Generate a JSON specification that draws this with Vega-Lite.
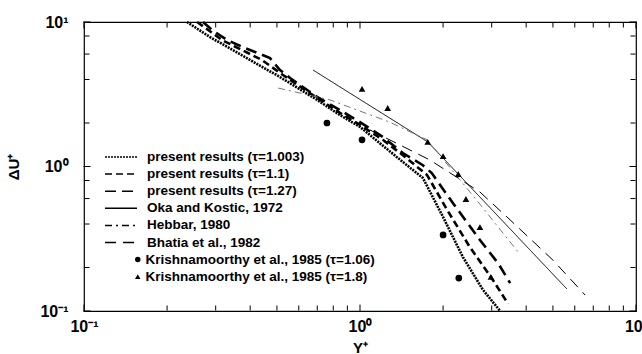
{
  "$schema": "https://vega.github.io/schema/vega-lite/v6.json",
  "width": 552,
  "height": 289,
  "autosize": {"type": "none"},
  "padding": {"left": 84, "top": 22, "right": 6, "bottom": 43},
  "background": "white",
  "config": {
    "view": {"stroke": "black", "strokeWidth": 1.2},
    "font": "Liberation Sans",
    "axis": {
      "domain": false,
      "grid": false,
      "ticks": false,
      "labelFont": "Liberation Sans",
      "labelFontWeight": "bold",
      "labelFontSize": 16,
      "labelColor": "black",
      "labelOverlap": false,
      "labelFlush": false,
      "titleFont": "Liberation Sans",
      "titleFontWeight": "bold",
      "titleFontSize": 15,
      "titleColor": "black"
    },
    "legend": {
      "labelFont": "Liberation Sans",
      "labelFontWeight": "bold",
      "labelFontSize": 13.5,
      "labelColor": "black",
      "padding": 0,
      "rowPadding": 2.1,
      "labelLimit": 400
    }
  },
  "datasets": {
    "lines": [
      {"series": "present results (τ=1.003)", "y_plus": 0.236, "du": 10.0},
      {"series": "present results (τ=1.003)", "y_plus": 0.286, "du": 7.87},
      {"series": "present results (τ=1.003)", "y_plus": 0.513, "du": 4.16},
      {"series": "present results (τ=1.003)", "y_plus": 0.699, "du": 2.89},
      {"series": "present results (τ=1.003)", "y_plus": 0.846, "du": 2.27},
      {"series": "present results (τ=1.003)", "y_plus": 1.0, "du": 1.88},
      {"series": "present results (τ=1.003)", "y_plus": 1.18, "du": 1.45},
      {"series": "present results (τ=1.003)", "y_plus": 1.40, "du": 1.11},
      {"series": "present results (τ=1.003)", "y_plus": 1.69, "du": 0.833},
      {"series": "present results (τ=1.003)", "y_plus": 2.00, "du": 0.447},
      {"series": "present results (τ=1.003)", "y_plus": 2.36, "du": 0.236},
      {"series": "present results (τ=1.003)", "y_plus": 2.79, "du": 0.140},
      {"series": "present results (τ=1.003)", "y_plus": 3.22, "du": 0.100},
      {"series": "present results (τ=1.1)", "y_plus": 0.257, "du": 10.0},
      {"series": "present results (τ=1.1)", "y_plus": 0.316, "du": 7.51},
      {"series": "present results (τ=1.1)", "y_plus": 0.441, "du": 5.46},
      {"series": "present results (τ=1.1)", "y_plus": 0.526, "du": 4.30},
      {"series": "present results (τ=1.1)", "y_plus": 0.699, "du": 2.98},
      {"series": "present results (τ=1.1)", "y_plus": 0.846, "du": 2.35},
      {"series": "present results (τ=1.1)", "y_plus": 1.0, "du": 1.94},
      {"series": "present results (τ=1.1)", "y_plus": 1.21, "du": 1.53},
      {"series": "present results (τ=1.1)", "y_plus": 1.46, "du": 1.16},
      {"series": "present results (τ=1.1)", "y_plus": 1.75, "du": 0.873},
      {"series": "present results (τ=1.1)", "y_plus": 2.07, "du": 0.50},
      {"series": "present results (τ=1.1)", "y_plus": 2.50, "du": 0.277},
      {"series": "present results (τ=1.1)", "y_plus": 3.03, "du": 0.164},
      {"series": "present results (τ=1.1)", "y_plus": 3.44, "du": 0.112},
      {"series": "present results (τ=1.27)", "y_plus": 0.270, "du": 10.0},
      {"series": "present results (τ=1.27)", "y_plus": 0.291, "du": 8.80},
      {"series": "present results (τ=1.27)", "y_plus": 0.330, "du": 7.51},
      {"series": "present results (τ=1.27)", "y_plus": 0.383, "du": 6.61},
      {"series": "present results (τ=1.27)", "y_plus": 0.472, "du": 5.63},
      {"series": "present results (τ=1.27)", "y_plus": 0.513, "du": 4.65},
      {"series": "present results (τ=1.27)", "y_plus": 0.558, "du": 4.10},
      {"series": "present results (τ=1.27)", "y_plus": 0.699, "du": 3.03},
      {"series": "present results (τ=1.27)", "y_plus": 0.846, "du": 2.46},
      {"series": "present results (τ=1.27)", "y_plus": 1.0, "du": 2.03},
      {"series": "present results (τ=1.27)", "y_plus": 1.21, "du": 1.60},
      {"series": "present results (τ=1.27)", "y_plus": 1.43, "du": 1.24},
      {"series": "present results (τ=1.27)", "y_plus": 1.69, "du": 1.02},
      {"series": "present results (τ=1.27)", "y_plus": 1.82, "du": 0.90},
      {"series": "present results (τ=1.27)", "y_plus": 2.17, "du": 0.559},
      {"series": "present results (τ=1.27)", "y_plus": 2.72, "du": 0.31},
      {"series": "present results (τ=1.27)", "y_plus": 3.16, "du": 0.215},
      {"series": "present results (τ=1.27)", "y_plus": 3.50, "du": 0.156},
      {"series": "Oka and Kostic, 1972", "y_plus": 0.676, "du": 4.65},
      {"series": "Oka and Kostic, 1972", "y_plus": 1.76, "du": 1.48},
      {"series": "Oka and Kostic, 1972", "y_plus": 5.62, "du": 0.142},
      {"series": "Hebbar, 1980", "y_plus": 0.505, "du": 3.49},
      {"series": "Hebbar, 1980", "y_plus": 0.778, "du": 2.89},
      {"series": "Hebbar, 1980", "y_plus": 1.28, "du": 2.03},
      {"series": "Hebbar, 1980", "y_plus": 1.75, "du": 1.53},
      {"series": "Hebbar, 1980", "y_plus": 2.68, "du": 0.568},
      {"series": "Hebbar, 1980", "y_plus": 3.74, "du": 0.256},
      {"series": "Bhatia et al., 1982", "y_plus": 1.087, "du": 1.79},
      {"series": "Bhatia et al., 1982", "y_plus": 1.79, "du": 1.11},
      {"series": "Bhatia et al., 1982", "y_plus": 2.72, "du": 0.666},
      {"series": "Bhatia et al., 1982", "y_plus": 3.41, "du": 0.447},
      {"series": "Bhatia et al., 1982", "y_plus": 5.00, "du": 0.225},
      {"series": "Bhatia et al., 1982", "y_plus": 6.54, "du": 0.129}
    ],
    "pts": [
      {"series": "Krishnamoorthy et al., 1985 (τ=1.06)", "y_plus": 0.759, "du": 2.0},
      {"series": "Krishnamoorthy et al., 1985 (τ=1.06)", "y_plus": 1.017, "du": 1.53},
      {"series": "Krishnamoorthy et al., 1985 (τ=1.06)", "y_plus": 2.0, "du": 0.336},
      {"series": "Krishnamoorthy et al., 1985 (τ=1.06)", "y_plus": 2.28, "du": 0.169},
      {"series": "Krishnamoorthy et al., 1985 (τ=1.8)", "y_plus": 1.017, "du": 3.44},
      {"series": "Krishnamoorthy et al., 1985 (τ=1.8)", "y_plus": 1.26, "du": 2.54},
      {"series": "Krishnamoorthy et al., 1985 (τ=1.8)", "y_plus": 1.76, "du": 1.48},
      {"series": "Krishnamoorthy et al., 1985 (τ=1.8)", "y_plus": 2.00, "du": 1.18},
      {"series": "Krishnamoorthy et al., 1985 (τ=1.8)", "y_plus": 2.27, "du": 0.887},
      {"series": "Krishnamoorthy et al., 1985 (τ=1.8)", "y_plus": 2.42, "du": 0.596},
      {"series": "Krishnamoorthy et al., 1985 (τ=1.8)", "y_plus": 2.72, "du": 0.381},
      {"series": "Krishnamoorthy et al., 1985 (τ=1.8)", "y_plus": 2.98, "du": 0.172}
    ],
    "xticks": [
      {"v": 0.1}, {"v": 0.2}, {"v": 0.3}, {"v": 0.4}, {"v": 0.5}, {"v": 0.6}, {"v": 0.7}, {"v": 0.8}, {"v": 0.9},
      {"v": 1}, {"v": 2}, {"v": 3}, {"v": 4}, {"v": 5}, {"v": 6}, {"v": 7}, {"v": 8}, {"v": 9}, {"v": 10}
    ],
    "yticks": [
      {"v": 0.1}, {"v": 0.2}, {"v": 0.4}, {"v": 0.6}, {"v": 0.8},
      {"v": 1}, {"v": 2}, {"v": 4}, {"v": 6}, {"v": 8}, {"v": 10}
    ]
  },
  "layer": [
    {
      "data": {"name": "lines"},
      "mark": {"type": "line", "strokeCap": "butt"},
      "encoding": {
        "x": {
          "field": "y_plus", "type": "quantitative",
          "scale": {"type": "log", "domain": [0.1, 10]},
          "axis": {
            "orient": "bottom",
            "values": [0.1, 1, 10],
            "labelExpr": "datum.value == 0.1 ? '10⁻¹' : datum.value == 1 ? '10⁰' : '10¹'",
            "labelPadding": 7,
            "title": "Y⁺",
            "titlePadding": 6
          }
        },
        "y": {
          "field": "du", "type": "quantitative",
          "scale": {"type": "log", "domain": [0.1, 10]},
          "axis": {
            "orient": "left",
            "values": [0.1, 1, 10],
            "labelExpr": "datum.value == 0.1 ? '10⁻¹' : datum.value == 1 ? '10⁰' : '10¹'",
            "labelPadding": 16,
            "title": "ΔU⁺",
            "titlePadding": 18
          }
        },
        "strokeDash": {
          "field": "series", "type": "nominal",
          "scale": {
            "domain": ["present results (τ=1.003)", "present results (τ=1.1)", "present results (τ=1.27)", "Oka and Kostic, 1972", "Hebbar, 1980", "Bhatia et al., 1982"],
            "range": [[2, 1], [7, 4], [11, 6], [1, 0], [7, 4, 2, 4], [11, 7]]
          },
          "legend": {
            "title": null,
            "orient": "none",
            "legendX": 20,
            "legendY": 127.5,
            "symbolType": "stroke",
            "symbolSize": 1024,
            "clipHeight": 15,
            "labelOffset": 9,
            "encode": {
              "symbols": {
                "update": {
                  "strokeWidth": {"signal": "indexof(datum.label, 'present') == 0 ? 2.2 : 1"},
                  "stroke": {"signal": "datum.label == 'Hebbar, 1980' ? '#777777' : 'black'"}
                }
              }
            }
          }
        },
        "color": {
          "condition": {"test": "datum.series == 'Hebbar, 1980'", "value": "#777777"},
          "value": "black"
        },
        "strokeWidth": {
          "condition": {"test": "indexof(datum.series, 'present') == 0", "value": 2.6},
          "value": 1
        }
      }
    },
    {
      "data": {"name": "pts"},
      "mark": {"type": "point", "filled": true, "opacity": 1, "color": "black", "size": 45},
      "encoding": {
        "x": {"field": "y_plus", "type": "quantitative", "axis": null},
        "y": {"field": "du", "type": "quantitative", "axis": null},
        "shape": {
          "field": "series", "type": "nominal",
          "scale": {
            "domain": ["Krishnamoorthy et al., 1985 (τ=1.06)", "Krishnamoorthy et al., 1985 (τ=1.8)"],
            "range": ["circle", "triangle-up"]
          },
          "legend": {
            "title": null,
            "orient": "none",
            "legendX": 47,
            "legendY": 230,
            "clipHeight": 15,
            "symbolSize": 30,
            "symbolFillColor": "black",
            "symbolStrokeColor": "black",
            "labelOffset": 1
          }
        }
      }
    },
    {
      "data": {"name": "xticks"},
      "mark": {"type": "tick", "orient": "vertical", "color": "black", "thickness": 1, "opacity": 1, "yOffset": -3},
      "encoding": {
        "x": {"field": "v", "type": "quantitative", "axis": null},
        "y": {"datum": 0.1, "type": "quantitative", "axis": null},
        "size": {"condition": {"test": "datum.v == 0.1 || datum.v == 1 || datum.v == 10", "value": 7}, "value": 5}
      }
    },
    {
      "data": {"name": "xticks"},
      "mark": {"type": "tick", "orient": "vertical", "color": "black", "thickness": 1, "opacity": 1, "yOffset": 3},
      "encoding": {
        "x": {"field": "v", "type": "quantitative", "axis": null},
        "y": {"datum": 10, "type": "quantitative", "axis": null},
        "size": {"condition": {"test": "datum.v == 0.1 || datum.v == 1 || datum.v == 10", "value": 7}, "value": 5}
      }
    },
    {
      "data": {"name": "yticks"},
      "mark": {"type": "tick", "orient": "horizontal", "color": "black", "thickness": 1, "opacity": 1, "xOffset": 3},
      "encoding": {
        "y": {"field": "v", "type": "quantitative", "axis": null},
        "x": {"datum": 0.1, "type": "quantitative", "axis": null},
        "size": {"condition": {"test": "datum.v == 0.1 || datum.v == 1 || datum.v == 10", "value": 7}, "value": 5}
      }
    },
    {
      "data": {"name": "yticks"},
      "mark": {"type": "tick", "orient": "horizontal", "color": "black", "thickness": 1, "opacity": 1, "xOffset": -3},
      "encoding": {
        "y": {"field": "v", "type": "quantitative", "axis": null},
        "x": {"datum": 10, "type": "quantitative", "axis": null},
        "size": {"condition": {"test": "datum.v == 0.1 || datum.v == 1 || datum.v == 10", "value": 7}, "value": 5}
      }
    }
  ],
  "resolve": {"axis": {"x": "independent", "y": "independent"}}
}
